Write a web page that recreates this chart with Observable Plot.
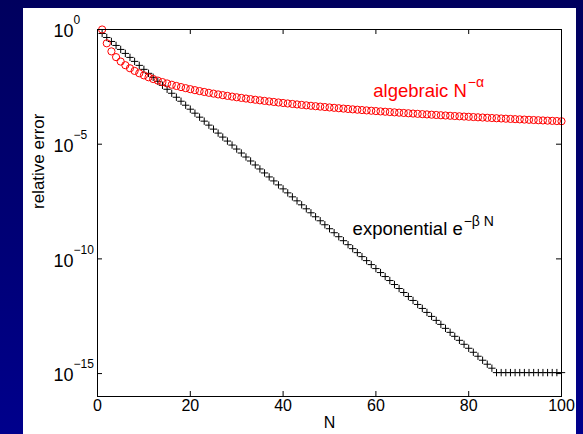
<!DOCTYPE html>
<html>
<head>
<meta charset="utf-8">
<script src="https://cdn.jsdelivr.net/npm/d3@7"></script>
<script src="https://cdn.jsdelivr.net/npm/@observablehq/plot@0.6"></script>
<style>
  html, body { margin: 0; padding: 0; }
  body { width: 583px; height: 434px; position: relative; overflow: hidden;
         background: linear-gradient(to bottom, #00005e 0%, #000078 60%, #00008c 100%); }
  #panel { position: absolute; left: 23px; top: 8px; width: 553px; height: 426px; background: #ffffff; }
  #chart { position: absolute; left: 0; top: 0; }
</style>
</head>
<body>
<div id="panel"></div>
<div id="chart"></div>
<script>
// N values 1..100
const N = [1,2,3,4,5,6,7,8,9,10,11,12,13,14,15,16,17,18,19,20,
  21,22,23,24,25,26,27,28,29,30,31,32,33,34,35,36,37,38,39,40,
  41,42,43,44,45,46,47,48,49,50,51,52,53,54,55,56,57,58,59,60,
  61,62,63,64,65,66,67,68,69,70,71,72,73,74,75,76,77,78,79,80,
  81,82,83,84,85,86,87,88,89,90,91,92,93,94,95,96,97,98,99,100];

// algebraic error (red circles)
const algebraic = [1,0.25,0.1111,0.0625,0.04,0.02778,0.02041,0.01563,0.01235,0.01,
  0.008264,0.006944,0.005917,0.005102,0.004444,0.003906,0.003460,0.003086,0.002770,0.0025,
  0.002268,0.002066,0.001890,0.001736,0.0016,0.001479,0.001372,0.001276,0.001189,0.001111,
  0.001041,0.0009766,0.0009183,0.0008651,0.0008163,0.0007716,0.0007305,0.0006925,0.0006575,0.000625,
  0.0005949,0.0005669,0.0005408,0.0005165,0.0004938,0.0004726,0.0004527,0.0004340,0.0004165,0.0004,
  0.0003845,0.0003698,0.0003560,0.0003429,0.0003306,0.0003189,0.0003078,0.0002973,0.0002873,0.0002778,
  0.0002687,0.0002601,0.0002520,0.0002441,0.0002367,0.0002296,0.0002228,0.0002163,0.0002100,0.0002041,
  0.0001984,0.0001929,0.0001877,0.0001826,0.0001778,0.0001731,0.0001687,0.0001644,0.0001602,0.0001563,
  0.0001524,0.0001487,0.0001452,0.0001417,0.0001384,0.0001352,0.0001321,0.0001291,0.0001262,0.0001235,
  0.0001208,0.0001181,0.0001156,0.0001132,0.0001108,0.0001085,0.0001063,0.0001041,0.0001020,0.0001];

// exponential error (black pluses)
const exponential = [6.703e-1,4.493e-1,3.012e-1,2.019e-1,1.353e-1,9.072e-2,6.081e-2,4.076e-2,2.732e-2,1.832e-2,
  1.228e-2,8.230e-3,5.517e-3,3.698e-3,2.479e-3,1.662e-3,1.114e-3,7.466e-4,5.005e-4,3.355e-4,
  2.249e-4,1.507e-4,1.010e-4,6.773e-5,4.540e-5,3.043e-5,2.040e-5,1.367e-5,9.166e-6,6.144e-6,
  4.119e-6,2.761e-6,1.851e-6,1.240e-6,8.315e-7,5.574e-7,3.736e-7,2.504e-7,1.679e-7,1.125e-7,
  7.543e-8,5.056e-8,3.389e-8,2.272e-8,1.523e-8,1.021e-8,6.842e-9,4.586e-9,3.074e-9,2.061e-9,
  1.381e-9,9.259e-10,6.207e-10,4.160e-10,2.789e-10,1.869e-10,1.253e-10,8.400e-11,5.631e-11,3.775e-11,
  2.530e-11,1.696e-11,1.137e-11,7.621e-12,5.109e-12,3.424e-12,2.295e-12,1.539e-12,1.031e-12,6.914e-13,
  4.635e-13,3.107e-13,2.083e-13,1.396e-13,9.358e-14,6.273e-14,4.205e-14,2.819e-14,1.889e-14,1.266e-14,
  8.489e-15,5.690e-15,3.814e-15,2.557e-15,1.714e-15,1.1e-15,1.1e-15,1.1e-15,1.1e-15,1.1e-15,
  1.1e-15,1.1e-15,1.1e-15,1.1e-15,1.1e-15,1.1e-15,1.1e-15,1.1e-15,1.1e-15,1.1e-15];

// ticks
const xTicks = [0, 20, 40, 60, 80, 100];
const yTicks = [1, 1e-5, 1e-10, 1e-15];
const yTickBase = "10";
const yTickExp = ["0", "\u22125", "\u221210", "\u221215"];

// labels / annotations
const xLabel = "N";
const yLabel = "relative error";
const annAlg = {x: 79.6, y: 2.1e-3, text: "algebraic N", sup: "\u2212\u03b1"};
const annExp = {x: 78.7, y: 2.0e-9, text: "exponential e", sup: "\u2212\u03b2 N"};

const W = 583, H = 434;
const mL = 97, mR = 22, mT = 29, mB = 38;
const iw = W - mL - mR, ih = H - mT - mB;

const algData = N.map((n, i) => ({n, v: algebraic[i]}));
const expData = N.map((n, i) => ({n, v: exponential[i]}));
const yIdx = yTicks.map((t, i) => ({t, e: yTickExp[i]}));

const font = "'Liberation Sans', Arial, Helvetica, sans-serif";

const chart = Plot.plot({
  width: W, height: H,
  marginLeft: mL, marginRight: mR, marginTop: mT, marginBottom: mB,
  style: {background: "transparent", color: "black", fontFamily: font, overflow: "visible"},
  x: {domain: [0, 100], axis: null},
  y: {type: "log", domain: [1e-16, 1], axis: null},
  marks: [
    // inward ticks
    Plot.ruleX(xTicks, {x: d => d, insetTop: ih - 5, stroke: "black"}),
    Plot.ruleX(xTicks, {x: d => d, insetBottom: ih - 5, stroke: "black"}),
    Plot.ruleY(yTicks, {y: d => d, insetRight: iw - 5, stroke: "black"}),
    Plot.ruleY(yTicks, {y: d => d, insetLeft: iw - 5, stroke: "black"}),
    // data
    Plot.dot(expData, {x: "n", y: "v", symbol: "plus", r: 2.5, stroke: "black", strokeWidth: 1}),
    Plot.dot(algData, {x: "n", y: "v", symbol: "circle", r: 3.6, stroke: "#ff0000", fill: "none", strokeWidth: 1}),
    Plot.frame({stroke: "black", strokeWidth: 1}),
    // x tick labels
    Plot.text(xTicks, {x: d => d, frameAnchor: "bottom", dy: 14, text: d => String(d), fontSize: 16, fill: "black"}),
    // y tick labels: base + exponent
    Plot.text(yIdx, {y: "t", frameAnchor: "left", dx: -24, dy: 2, textAnchor: "end", text: () => yTickBase, fontSize: 18, fill: "black"}),
    Plot.text(yIdx, {y: "t", frameAnchor: "left", dx: -24, dy: -9, textAnchor: "start", text: "e", fontSize: 12, fill: "black"}),
    // axis labels
    Plot.text([xLabel], {frameAnchor: "bottom", dy: 31, text: d => d, fontSize: 16, fill: "black"}),
    Plot.text([yLabel], {frameAnchor: "left", dx: -59, dy: -4, rotate: -90, text: d => d, fontSize: 17, fill: "black"}),
    // annotations
    Plot.text([annAlg], {x: "x", y: "y", text: "text", textAnchor: "end", fontSize: 18.5, fill: "#ff0000"}),
    Plot.text([annAlg], {x: "x", y: "y", text: "sup", textAnchor: "start", dx: 1, dy: -8, fontSize: 14, fill: "#ff0000"}),
    Plot.text([annExp], {x: "x", y: "y", text: "text", textAnchor: "end", fontSize: 18.5, fill: "black"}),
    Plot.text([annExp], {x: "x", y: "y", text: "sup", textAnchor: "start", dx: 1, dy: -8, fontSize: 14, fill: "black"})
  ]
});
document.getElementById("chart").appendChild(chart);
</script>
</body>
</html>
